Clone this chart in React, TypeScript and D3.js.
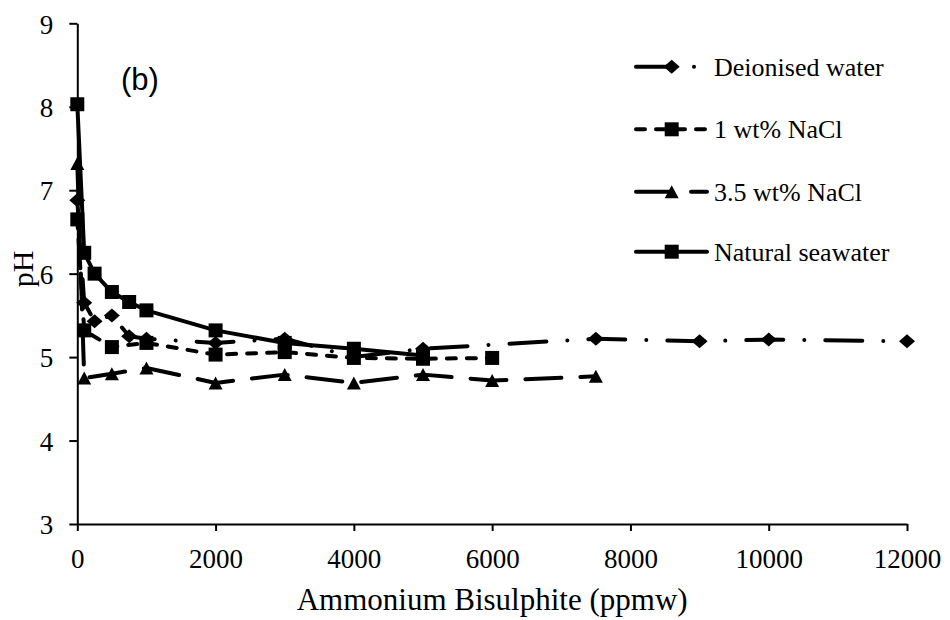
import React, { useEffect, useRef } from 'react';
import * as d3 from 'd3';

// ---- Data ----
const deionisedX = [0, 100, 250, 500, 750, 1000, 2000, 3000, 4000, 5000, 7500, 9000, 10000, 12000];
const deionisedPH = [6.88, 5.65, 5.43, 5.5, 5.25, 5.22, 5.17, 5.22, 5.0, 5.1, 5.22, 5.19, 5.21, 5.19];

const nacl1X = [0, 100, 500, 1000, 2000, 3000, 4000, 5000, 6000];
const nacl1PH = [6.65, 5.32, 5.12, 5.17, 5.03, 5.06, 4.99, 4.98, 4.99];

const nacl35X = [0, 100, 500, 1000, 2000, 3000, 4000, 5000, 6000, 7500];
const nacl35PH = [7.32, 4.75, 4.8, 4.87, 4.69, 4.79, 4.69, 4.79, 4.72, 4.77];

const seawaterX = [0, 100, 250, 500, 750, 1000, 2000, 3000, 4000, 5000];
const seawaterPH = [8.03, 6.25, 6.0, 5.78, 5.66, 5.56, 5.32, 5.17, 5.1, 5.02];

const seriesNames = ['Deionised water', '1 wt% NaCl', '3.5 wt% NaCl', 'Natural seawater'];
const xTicks = [0, 2000, 4000, 6000, 8000, 10000, 12000];
const yTicks = [3, 4, 5, 6, 7, 8, 9];
const xTitle = 'Ammonium Bisulphite (ppmw)';
const yTitle = 'pH';
const panelLabel = '(b)';

const SERIF = '"Liberation Serif", "Times New Roman", serif';
const SANS = '"Liberation Sans", Arial, sans-serif';

const markerPaths: Record<string, string> = {
  diamond: 'M0,-7L8,0L0,7L-8,0Z',
  square: 'M-7,-7H7V7H-7Z',
  triangle: 'M0,-6.5L7,6.5L-7,6.5Z',
};

export default function App() {
  const ref = useRef<SVGSVGElement>(null);

  useEffect(() => {
    const svg = d3.select(ref.current);
    svg.selectAll('*').remove();

    const x = d3.scaleLinear().domain([0, 12000]).range([77.3, 907]);
    const y = d3.scaleLinear().domain([3, 9]).range([524, 23.3]);

    const series = [
      { name: seriesNames[0], xs: deionisedX, ys: deionisedPH, marker: 'diamond', dash: '37 21 0.01 21' },
      { name: seriesNames[1], xs: nacl1X, ys: nacl1PH, marker: 'square', dash: '9 11' },
      { name: seriesNames[2], xs: nacl35X, ys: nacl35PH, marker: 'triangle', dash: '36 19' },
      { name: seriesNames[3], xs: seawaterX, ys: seawaterPH, marker: 'square', dash: null as string | null },
    ];

    // Axes
    const gx = svg
      .append('g')
      .attr('transform', 'translate(0,524)')
      .call(
        d3
          .axisBottom(x)
          .tickValues(xTicks)
          .tickSize(7)
          .tickSizeOuter(0)
          .tickFormat(d3.format('d'))
      );
    gx.attr('font-family', SERIF).attr('font-size', 27);
    gx.selectAll('path.domain').attr('stroke', '#000').attr('stroke-width', 2);
    gx.selectAll('.tick line').attr('stroke', '#000').attr('stroke-width', 2);
    gx.selectAll('.tick text')
      .attr('y', 44)
      .attr('dy', 0)
      .attr('fill', '#000')
      .style('font-family', SERIF)
      .style('font-size', '27px');

    const gy = svg
      .append('g')
      .attr('transform', 'translate(77.3,0)')
      .call(
        d3
          .axisLeft(y)
          .tickValues(yTicks)
          .tickSize(8)
          .tickPadding(16)
          .tickSizeOuter(0)
          .tickFormat(d3.format('d'))
      );
    gy.attr('font-family', SERIF).attr('font-size', 27);
    gy.selectAll('path.domain').attr('stroke', '#000').attr('stroke-width', 2);
    gy.selectAll('.tick line').attr('stroke', '#000').attr('stroke-width', 2);
    gy.selectAll('.tick text')
      .attr('dy', '0.36em')
      .attr('fill', '#000')
      .style('font-family', SERIF)
      .style('font-size', '27px');

    // Series
    const line = d3
      .line<[number, number]>()
      .x((d) => x(d[0]))
      .y((d) => y(d[1]));

    series.forEach((s) => {
      const pts: [number, number][] = s.xs.map((v, i) => [v, s.ys[i]]);
      const g = svg.append('g');
      g.append('path')
        .attr('d', line(pts) as string)
        .attr('fill', 'none')
        .attr('stroke', '#000')
        .attr('stroke-width', 4)
        .attr('stroke-linejoin', 'round')
        .attr('stroke-linecap', 'round')
        .attr('stroke-dasharray', s.dash);
      g.selectAll('path.mk')
        .data(pts)
        .enter()
        .append('path')
        .attr('class', 'mk')
        .attr('d', markerPaths[s.marker])
        .attr('transform', (d) => `translate(${x(d[0])},${y(d[1])})`)
        .attr('fill', '#000');
    });

    // Legend
    const legendY = [66.7, 129.3, 191.7, 251.7];
    series.forEach((s, i) => {
      const g = svg.append('g').attr('transform', `translate(0,${legendY[i]})`);
      g.append('line')
        .attr('x1', 636)
        .attr('x2', 707)
        .attr('y1', 0)
        .attr('y2', 0)
        .attr('stroke', '#000')
        .attr('stroke-width', 4)
        .attr('stroke-linecap', 'round')
        .attr('stroke-dasharray', s.dash);
      g.append('path').attr('d', markerPaths[s.marker]).attr('transform', 'translate(671.7,0)').attr('fill', '#000');
      g.append('text')
        .attr('x', 714)
        .attr('y', 9)
        .style('font-family', SERIF)
        .style('font-size', '26px')
        .attr('fill', '#000')
        .text(s.name);
    });

    // Titles
    svg
      .append('text')
      .attr('x', (77.3 + 907) / 2)
      .attr('y', 610)
      .attr('text-anchor', 'middle')
      .style('font-family', SERIF)
      .style('font-size', '31px')
      .attr('fill', '#000')
      .text(xTitle);

    svg
      .append('text')
      .attr('transform', 'translate(33,269) rotate(-90)')
      .attr('text-anchor', 'middle')
      .style('font-family', SERIF)
      .style('font-size', '30px')
      .attr('fill', '#000')
      .text(yTitle);

    svg
      .append('text')
      .attr('x', 121)
      .attr('y', 90)
      .style('font-family', SANS)
      .style('font-size', '31px')
      .attr('fill', '#000')
      .text(panelLabel);
  }, []);

  return (
    <svg
      ref={ref}
      width={950}
      height={620}
      style={{ position: 'absolute', left: 0, top: 0, background: '#fff' }}
    />
  );
}
